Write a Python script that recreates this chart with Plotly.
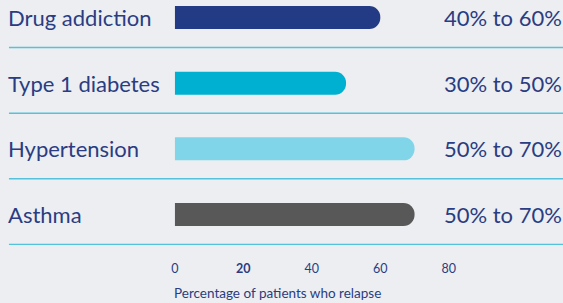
import plotly.graph_objects as go

categories = ["Drug addiction", "Type 1 diabetes", "Hypertension", "Asthma"]
upper_values = [60, 50, 70, 70]
range_labels = ["40% to 60%", "30% to 50%", "50% to 70%", "50% to 70%"]
bar_colors = ["#233a85", "#00b0d1", "#80d5e9", "#585858"]
tick_vals = [0, 20, 40, 60, 80]
tick_text = ["0", "<b>20</b>", "40", "60", "80"]
axis_title = "Percentage of patients who relapse"

W, H = 563, 303
navy = "#2a3c82"
font_family = "Lato, Fira Sans, sans-serif"

ypos = list(range(len(categories)))

x0px, pxu = 172, 3.45

fig = go.Figure()
fig.add_trace(go.Bar(
    x=upper_values, y=ypos, orientation="h",
    marker=dict(color=bar_colors, line=dict(width=0)),
    width=0.35, hoverinfo="skip",
))

annotations = []
for i, (c, lab) in enumerate(zip(categories, range_labels)):
    annotations.append(dict(text=c, x=2 / W, xref="paper", xanchor="left",
                            y=i, yref="y", yanchor="middle", showarrow=False,
                            font=dict(size=22, color=navy, family=font_family)))
    annotations.append(dict(text=lab, x=564 / W, xref="paper", xanchor="right",
                            y=i, yref="y", yanchor="middle", showarrow=False,
                            font=dict(size=22, color=navy, family=font_family)))
annotations.append(dict(text=axis_title, x=275 / W, xref="paper", xanchor="center",
                        y=(H - 293) / H, yref="paper", yanchor="middle", showarrow=False,
                        font=dict(size=13.5, color=navy, family=font_family)))

shapes = []
for i in ypos:
    shapes.append(dict(type="line", xref="paper", x0=5 / W, x1=1,
                       yref="y", y0=i + 0.457, y1=i + 0.457,
                       line=dict(color="#55c2dc", width=1.5)))

fig.update_layout(
    width=W, height=H,
    margin=dict(l=0, r=0, t=0, b=0),
    paper_bgcolor="#eceef1", plot_bgcolor="rgba(0,0,0,0)",
    showlegend=False,
    barcornerradius=11,
    annotations=annotations, shapes=shapes,
    font=dict(family=font_family, color=navy),
    xaxis=dict(domain=[x0px / W, (x0px + 100 * pxu) / W], range=[0, 100],
               tickvals=tick_vals, ticktext=tick_text,
               showgrid=False, zeroline=False, showline=False,
               ticks="outside", ticklen=12, tickcolor="rgba(0,0,0,0)",
               tickfont=dict(size=12.5, color=navy, family=font_family)),
    yaxis=dict(domain=[(H - 245) / H, 1], range=[3.464, -0.2665],
               showticklabels=False, showgrid=False, zeroline=False, showline=False),
)

fig.write_html("out.html", config={"displayModeBar": False},
               post_script="document.body.style.margin='0';document.body.style.background='#eceef1';")
